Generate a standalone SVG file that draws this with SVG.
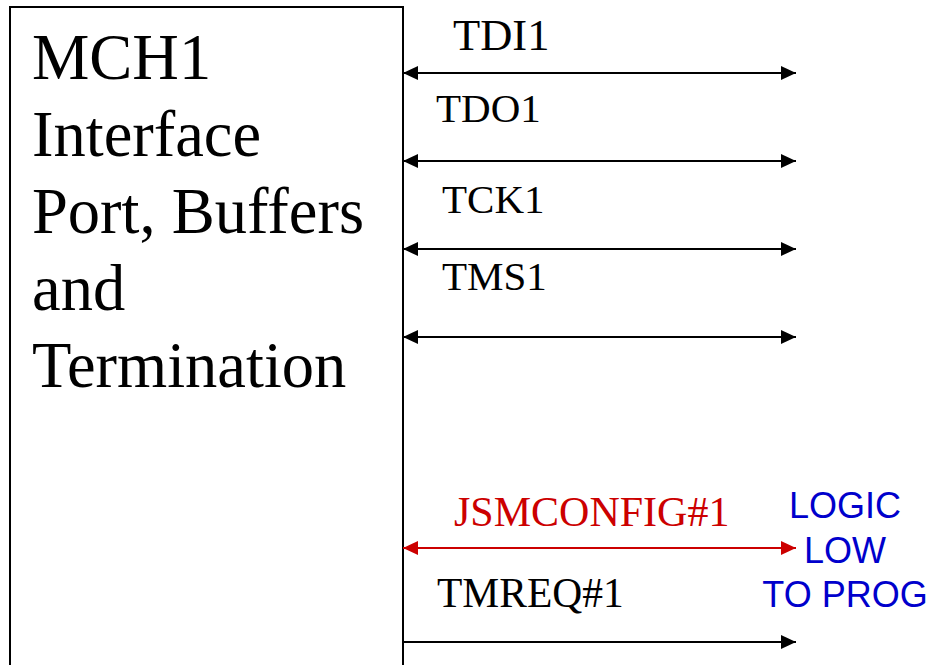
<svg xmlns="http://www.w3.org/2000/svg" width="934" height="665" viewBox="0 0 934 665">
  <style>
    .box { fill: #ffffff; stroke: #000000; stroke-width: 2; }
    .title { font-family: "Liberation Serif", "Times New Roman", serif; font-size: 64.5px; fill: #000000; }
    .sig { font-family: "Liberation Serif", "Times New Roman", serif; font-size: 41px; fill: #000000; }
    .sig-red { font-family: "Liberation Serif", "Times New Roman", serif; font-size: 42px; fill: #cc0000; }
    .note { font-family: "Liberation Sans", Arial, sans-serif; font-size: 36px; fill: #0000cc; text-anchor: middle; }
    .wire { stroke: #000000; stroke-width: 2; fill: none; }
    .wire-red { stroke: #cc0000; stroke-width: 2; fill: none; }
  </style>
  <defs>
    <marker id="headBlack" viewBox="0 0 15 14" refX="15" refY="7" markerWidth="15" markerHeight="14" markerUnits="userSpaceOnUse" orient="auto-start-reverse">
      <path d="M0,0 L15,7 L0,14 Z" fill="#000000"/>
    </marker>
    <marker id="headRed" viewBox="0 0 15 14" refX="15" refY="7" markerWidth="15" markerHeight="14" markerUnits="userSpaceOnUse" orient="auto-start-reverse">
      <path d="M0,0 L15,7 L0,14 Z" fill="#cc0000"/>
    </marker>
  </defs>

  <!-- MCH1 interface block -->
  <g id="mch1">
    <rect class="box" x="10" y="7" width="393" height="680"/>
    <text class="title" x="32" y="79">MCH1</text>
    <text class="title" x="32" y="156">Interface</text>
    <text class="title" x="32" y="233">Port, Buffers</text>
    <text class="title" x="32" y="310">and</text>
    <text class="title" x="32" y="387">Termination</text>
  </g>

  <!-- signal lines -->
  <g id="connectors">
    <line class="wire" x1="403" y1="73" x2="796" y2="73" marker-start="url(#headBlack)" marker-end="url(#headBlack)"/>
    <line class="wire" x1="403" y1="161" x2="796" y2="161" marker-start="url(#headBlack)" marker-end="url(#headBlack)"/>
    <line class="wire" x1="403" y1="249" x2="796" y2="249" marker-start="url(#headBlack)" marker-end="url(#headBlack)"/>
    <line class="wire" x1="403" y1="337" x2="796" y2="337" marker-start="url(#headBlack)" marker-end="url(#headBlack)"/>
    <line class="wire-red" x1="403" y1="548" x2="796" y2="548" marker-start="url(#headRed)" marker-end="url(#headRed)"/>
    <line class="wire" x1="403" y1="642" x2="796" y2="642" marker-end="url(#headBlack)"/>
  </g>

  <!-- signal names -->
  <g id="labels">
    <text class="sig" x="453" y="50" style="font-size:44.5px">TDI1</text>
    <text class="sig" x="436" y="122">TDO1</text>
    <text class="sig" x="442" y="213">TCK1</text>
    <text class="sig" x="442" y="290">TMS1</text>
    <text class="sig-red" x="454" y="526">JSMCONFIG#1</text>
    <text class="sig" x="437" y="607" style="font-size:41.5px">TMREQ#1</text>
  </g>

  <!-- JSMCONFIG strapping note -->
  <g id="note">
    <text class="note" x="845" y="518">LOGIC</text>
    <text class="note" x="845" y="563">LOW</text>
    <text class="note" x="845" y="607">TO PROG</text>
  </g>
</svg>
